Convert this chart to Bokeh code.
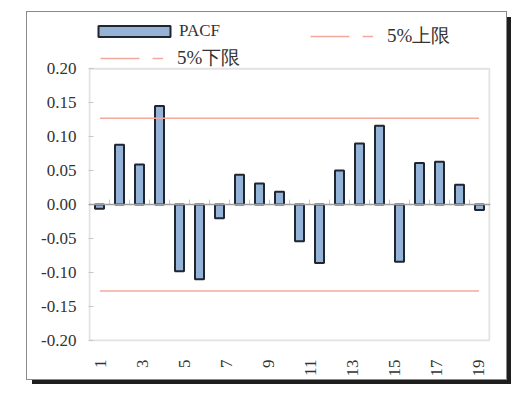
import math
from bokeh.plotting import figure
from bokeh.models import (Range1d, LinearAxis, FixedTicker, NumeralTickFormatter, Span,
                          BoxAnnotation, Legend, LegendItem, ColumnDataSource)
from bokeh.embed import file_html
from bokeh.resources import INLINE

# ---------------- data ----------------
lags = list(range(1, 21))
pacf = [-0.006, 0.088, 0.059, 0.145, -0.098, -0.110, -0.020, 0.044, 0.031, 0.019,
        -0.054, -0.086, 0.050, 0.090, 0.116, -0.084, 0.061, 0.063, 0.029, -0.008]
bound_lags = list(range(1, 20))
upper_bound = [0.127] * len(bound_lags)
lower_bound = [-0.127] * len(bound_lags)
x_tick_values = [1, 3, 5, 7, 9, 11, 13, 15, 17, 19]
x_tick_labels = ["1", "3", "5", "7", "9", "11", "13", "15", "17", "19"]
y_ticks = [-0.20, -0.15, -0.10, -0.05, 0.00, 0.05, 0.10, 0.15, 0.20]
series_names = ["PACF", "5%上限", "5%下限"]

# ---------------- layout (page px) ----------------
OUT_L, OUT_T, OUT_R, OUT_B = 27, 12, 506, 379     # outer chart box
PL, PR, PT, PB = 89, 489, 69, 345                 # inner plot area
PAD = 1                                           # frame slightly larger than plot area
FL, FR, FT, FB = PL - PAD, PR + PAD, OUT_T, PB + PAD   # bokeh frame (includes legend zone)
W, H = OUT_R - OUT_L, OUT_B - OUT_T
FONT = "Liberation Serif"
TXT = "#333333"
BAR_FILL = "#95b3d7"
BAR_LINE = "#1f2630"
RED = "#f4a99f"
GRAY = "#9f9f9f"

y_lo, y_hi = y_ticks[0], y_ticks[-1]
ppu_y = (PB - PT) / (y_hi - y_lo)
x_lo, x_hi = 0.5, len(lags) + 0.5
ppu_x = (PR - PL) / (x_hi - x_lo)
lx_lo, lx_hi = 0.5, len(bound_lags) + 0.5
ppu_lx = (PR - PL) / (lx_hi - lx_lo)

p = figure(width=W, height=H, output_backend="svg", toolbar_location=None,
           x_range=Range1d(x_lo - PAD / ppu_x, x_hi + PAD / ppu_x),
           y_range=Range1d(y_lo - PAD / ppu_y, y_hi + (PT - FT) / ppu_y),
           x_axis_location=None, y_axis_location="left",
           min_border_left=FL - OUT_L, min_border_right=OUT_R - FR,
           min_border_top=FT - OUT_T, min_border_bottom=OUT_B - FB,
           margin=(OUT_T, 0, 0, OUT_L))
p.styles = {"outline": "1px solid #8a8a8a", "box-shadow": "5px 5px 0px 0px #1e1e1e"}
p.background_fill_color = "white"
p.border_fill_color = "white"
p.outline_line_color = None
p.xgrid.visible = False
p.ygrid.visible = False

# inner plot border
p.add_layout(BoxAnnotation(left=x_lo, right=x_hi, bottom=y_lo, top=y_hi,
                           fill_alpha=0, line_color=GRAY, line_width=2, level="underlay"))

# y axis
ya = p.yaxis[0]
ya.ticker = FixedTicker(ticks=y_ticks)
ya.formatter = NumeralTickFormatter(format="0.00")
ya.axis_line_color = None
ya.major_tick_in = 5
ya.major_tick_out = 0
ya.major_tick_line_color = "#c8c8c8"
ya.minor_tick_line_color = None
ya.major_label_standoff = 12
ya.major_label_text_font = FONT
ya.major_label_text_font_size = "17px"
ya.major_label_text_color = TXT

# bottom category labels (19-slot label axis spanning the plot area)
p.extra_x_ranges = {"lab": Range1d(lx_lo - PAD / ppu_lx, lx_hi + PAD / ppu_lx)}
xa = LinearAxis(x_range_name="lab", ticker=FixedTicker(ticks=x_tick_values),
                major_label_overrides={v: s for v, s in zip(x_tick_values, x_tick_labels)})
xa.axis_line_color = None
xa.major_tick_line_color = None
xa.minor_tick_line_color = None
xa.major_label_orientation = math.pi / 2
xa.major_label_standoff = 12
xa.major_label_text_font = FONT
xa.major_label_text_font_size = "17px"
xa.major_label_text_color = TXT
p.add_layout(xa, "below")

# zero line with category tick marks
p.add_layout(Span(location=0, dimension="width", line_color=GRAY, line_width=1.5))
tick_h = 5 / ppu_y
bounds = [l + 0.5 for l in lags[:-1]]
p.segment(x0=bounds, x1=bounds, y0=[0] * len(bounds), y1=[tick_h] * len(bounds),
          line_color="#c8c8c8", line_width=1)

# bars
src = ColumnDataSource(dict(lag=lags, pacf=pacf))
bars = p.vbar(x="lag", top="pacf", bottom=0, width=0.45, source=src,
              fill_color=BAR_FILL, line_color=BAR_LINE, line_width=2)

# 5% bounds
p.line(bound_lags, upper_bound, x_range_name="lab", line_color=RED, line_width=1.5)
p.line(bound_lags, lower_bound, x_range_name="lab", line_color=RED, line_width=1.5)

# legend-only line renderers (dashed key swatch as in the reference; no visible data)
LEG_DASH = "39 13 11 40"
nan = float("nan")
leg_up = p.line([nan], [nan], line_color=RED, line_width=1.5, line_dash=LEG_DASH)
leg_lo = p.line([nan], [nan], line_color=RED, line_width=1.5, line_dash=LEG_DASH)

ROW_H = 34
ROW_SHIFT = 6
def legend(item, rend, gx, cy, gw, gh, standoff, fs):
    """gx: page x of glyph start, cy: page y of row centre."""
    lg = Legend(items=[LegendItem(label=item, renderers=[rend])],
                location=(gx - FL, FB - (cy + ROW_SHIFT + ROW_H / 2)),
                orientation="vertical", padding=0, margin=0, spacing=0,
                glyph_width=gw, glyph_height=gh, label_standoff=standoff,
                label_height=ROW_H, label_text_font=FONT, label_text_font_size=fs,
                label_text_color=TXT, border_line_color=None, background_fill_alpha=0)
    p.add_layout(lg, "center")

legend(series_names[0], bars, 89, 30, 90, 14, 0, "17px")
legend(series_names[2], leg_lo, 100, 57, 63, 14, 14, "19px")
legend(series_names[1], leg_up, 310, 35, 63, 14, 14, "19px")

open("out.html", "w").write(file_html(p, INLINE))
